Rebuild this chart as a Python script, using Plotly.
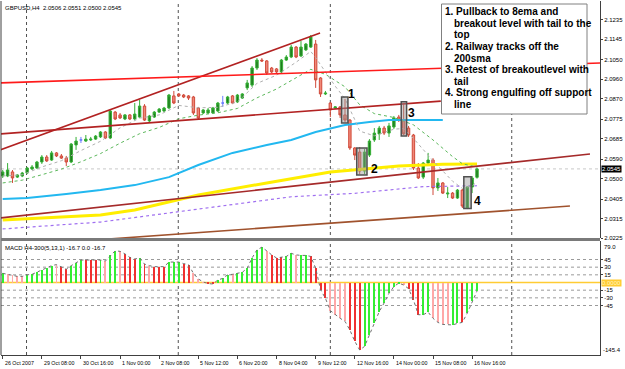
import plotly.graph_objects as go

# ---------------- data ----------------
bar_index = list(range(98))
open_ = [2.0512,2.0512,2.0531,2.0507,2.0512,2.0526,2.0545,2.0549,2.0577,2.0600,
         2.0586,2.0619,2.0605,2.0595,2.0577,2.0656,2.0679,2.0674,2.0679,2.0683,
         2.0693,2.0716,2.0688,2.0808,2.0795,2.0776,2.0795,2.0776,2.0785,2.0836,
         2.0767,2.0785,2.0808,2.0813,2.0827,2.0883,2.0892,2.0887,2.0883,2.0878,
         2.0827,2.0804,2.0804,2.0804,2.0813,2.0850,2.0850,2.0883,2.0855,2.0873,
         2.0920,2.0933,2.1012,2.1049,2.1045,2.1012,2.1008,2.0994,2.1049,2.1063,
         2.1109,2.1068,2.1096,2.1109,2.1123,2.0966,2.0892,2.0850,2.0827,2.0832,
         2.0795,2.0771,2.0642,2.0623,2.0535,2.0609,2.0679,2.0707,2.0734,2.0711,
         2.0739,2.0785,2.0771,2.0734,2.0702,2.0549,2.0507,2.0572,2.0586,2.0457,
         2.0480,2.0429,2.0433,2.0410,2.0447,2.0364,2.0461,2.0506]
high = [2.0540,2.0572,2.0540,2.0521,2.0531,2.0554,2.0563,2.0582,2.0609,2.0609,
        2.0628,2.0623,2.0614,2.0605,2.0665,2.0693,2.0693,2.0702,2.0693,2.0702,
        2.0720,2.0720,2.0818,2.0813,2.0804,2.0799,2.0799,2.0850,2.0864,2.0845,
        2.0795,2.0813,2.0827,2.0832,2.0892,2.0906,2.0896,2.0892,2.0887,2.0883,
        2.0832,2.0822,2.0827,2.0832,2.0855,2.0883,2.0883,2.0887,2.0892,2.0896,
        2.0957,2.1021,2.1058,2.1058,2.1049,2.1017,2.1012,2.1054,2.1072,2.1119,
        2.1114,2.1137,2.1128,2.1165,2.1142,2.0970,2.0906,2.0855,2.0836,2.0836,
        2.0869,2.0776,2.0646,2.0646,2.0637,2.0683,2.0734,2.0744,2.0744,2.0758,
        2.0790,2.0795,2.0850,2.0744,2.0707,2.0572,2.0577,2.0619,2.0595,2.0503,
        2.0484,2.0461,2.0438,2.0452,2.0452,2.0466,2.0512,2.0551]
low = [2.0503,2.0507,2.0480,2.0503,2.0507,2.0521,2.0540,2.0545,2.0568,2.0577,
       2.0582,2.0600,2.0591,2.0558,2.0572,2.0633,2.0665,2.0670,2.0674,2.0679,
       2.0688,2.0683,2.0683,2.0771,2.0776,2.0771,2.0771,2.0771,2.0781,2.0767,
       2.0762,2.0781,2.0804,2.0808,2.0822,2.0845,2.0878,2.0873,2.0864,2.0795,
       2.0776,2.0799,2.0799,2.0799,2.0808,2.0832,2.0845,2.0845,2.0850,2.0869,
       2.0910,2.0924,2.1003,2.1040,2.0980,2.0989,2.0984,2.0989,2.1045,2.1058,
       2.1058,2.1063,2.1091,2.1105,2.0920,2.0878,2.0887,2.0785,2.0822,2.0781,
       2.0762,2.0633,2.0586,2.0521,2.0521,2.0600,2.0670,2.0679,2.0702,2.0693,
       2.0730,2.0762,2.0702,2.0693,2.0540,2.0498,2.0498,2.0563,2.0424,2.0443,
       2.0429,2.0410,2.0406,2.0406,2.0364,2.0359,2.0433,2.0500]
close = [2.0531,2.0540,2.0503,2.0517,2.0526,2.0549,2.0554,2.0577,2.0600,2.0582,
         2.0619,2.0605,2.0595,2.0577,2.0660,2.0674,2.0679,2.0683,2.0683,2.0697,
         2.0716,2.0688,2.0813,2.0776,2.0781,2.0795,2.0776,2.0799,2.0836,2.0771,
         2.0790,2.0808,2.0822,2.0827,2.0887,2.0850,2.0883,2.0878,2.0873,2.0804,
         2.0781,2.0818,2.0818,2.0827,2.0850,2.0850,2.0878,2.0850,2.0887,2.0892,
         2.0943,2.1012,2.1049,2.1045,2.0989,2.0994,2.0994,2.1049,2.1063,2.1109,
         2.1063,2.1109,2.1123,2.1156,2.0957,2.0892,2.0896,2.0818,2.0832,2.0795,
         2.0771,2.0642,2.0609,2.0535,2.0623,2.0674,2.0711,2.0734,2.0711,2.0744,
         2.0781,2.0771,2.0707,2.0702,2.0549,2.0503,2.0572,2.0586,2.0457,2.0480,
         2.0433,2.0433,2.0410,2.0447,2.0373,2.0461,2.0503,2.0545]

ema8_bars = [0,4,8,12,16,20,24,28,32,36,40,44,48,52,56,60,63,64,68,70,72,73,76,80,82,84,88,92,94,96,97]
ema8_vals = [2.0512,2.0518,2.0554,2.0583,2.0630,2.0673,2.0735,2.0780,2.0795,2.0839,2.0828,2.0830,
             2.0855,2.0941,2.0979,2.1039,2.1089,2.1060,2.0928,2.0870,2.0773,2.0720,2.0698,2.0729,
             2.0732,2.0686,2.0583,2.0488,2.0455,2.0467,2.0484]
ema21_bars = [0,4,8,12,16,20,24,28,32,36,40,44,48,52,56,60,63,66,70,73,76,80,84,88,92,94,97]
ema21_vals = [2.0480,2.0493,2.0518,2.0544,2.0578,2.0616,2.0664,2.0708,2.0737,2.0777,2.0794,2.0805,
              2.0825,2.0874,2.0915,2.0965,2.1006,2.0983,2.0925,2.0842,2.0801,2.0783,2.0749,2.0679,
              2.0602,2.0569,2.0553]
sma100_bars = [0,5,13,20,27,34,40,47,54,59,64,70,75,79,90]
sma100_vals = [2.0406,2.0410,2.0429,2.0447,2.0470,2.0507,2.0563,2.0619,2.0656,2.0679,2.0716,
               2.0748,2.0762,2.0771,2.0771]
sma200_bars = [0,20,27,34,40,54,67,74,81,90,97]
sma200_vals = [2.0308,2.0332,2.0355,2.0392,2.0424,2.0480,2.0531,2.0545,2.0558,2.0566,2.0568]
ma_purple_bars = [0,20,40,54,59,72,86,97]
ma_purple_vals = [2.0267,2.0299,2.0359,2.0401,2.0416,2.0432,2.0463,2.0467]

# MACD histogram
macd = [18,16,14,12,12,15,16,20,25,29,
        33,35,31,26,33,39,44,44,44,44,
        44,42,53,62,61,56,49,46,48,36,
        33,31,31,31,40,40,40,37,35,18,
        7,1,-2,-3,5,8,15,16,18,20,
        28,48,64,69,62,54,48,49,51,57,
        54,53,53,51,28,-14,-31,-55,-63,-70,
        -76,-93,-115,-132,-125,-102,-80,-57,-40,-21,
        -8,-1,-5,-12,-34,-63,-63,-58,-70,-78,
        -82,-82,-83,-80,-78,-60,-37,-16.7]
macd_state = list("gpppp" "gggggg" "prr" "ggg" "rrr" "gp" "gg" "prrr" "grp" "rrr" "ggg" "rr"
                  "ppp" "rr" "ggg" "p" "gggggg" "prrr" "gg" "p" "gg" "rrrr" "pppp" "rrr"
                  "gggggggg" "p" "rrr" "gg" "pppp" "gg" "r" "ggg")
macd_levels = [45, 30, 15, -15, -30, -45]

# trend lines drawn on the chart (bar, price) -> (bar, price)
trend_x0 = [-0.55, -0.55, -0.55, -0.55, 22.0]
trend_p0 = [2.0633, 2.0707, 2.0943, 2.0318, 2.0221]
trend_x1 = [64.9, 89.6, 122.15, 120.1, 116.0]
trend_p1 = [2.1174, 2.0859, 2.1035, 2.0614, 2.0373]

# highlighted setups
box_x0 = [69.3, 72.4, 81.5, 94.3]
box_x1 = [70.6, 74.5, 82.6, 95.8]
box_top = [2.0878, 2.0642, 2.0856, 2.0509]
box_bot = [2.0758, 2.0517, 2.0697, 2.0362]
box_lbl = ["1", "2", "3", "4"]
lbl_x = [71.4, 76.0, 83.7, 97.1]
lbl_p = [2.0894, 2.0543, 2.0805, 2.0398]

price_ticks = [2.1235, 2.1145, 2.1050, 2.0960, 2.0870, 2.0775, 2.0685, 2.0590, 2.0500, 2.0405, 2.0315, 2.0225]
time_tick_bars = [0, 8, 16, 24, 32, 40, 48, 56, 64, 72, 80, 88, 96]
time_tick_labels = ["26 Oct 2007", "29 Oct 08:00", "30 Oct 16:00", "1 Nov 00:00", "2 Nov 08:00",
                    "5 Nov 12:00", "6 Nov 20:00", "8 Nov 04:00", "9 Nov 12:00", "12 Nov 16:00",
                    "14 Nov 00:00", "15 Nov 08:00", "16 Nov 16:00"]
grid_bars = [4.87, 35.9, 67.0, 104.1]
last_price = 2.0545

note_lines = ["1. Pullback to 8ema and", "breakout level with tail to the", "top",
              "2. Railway tracks off the", "200sma", "3. Retest of breakoutlevel with",
              "tail", "4. Strong engulfing off support", "line"]

# ---------------- figure ----------------
FONT = "Liberation Sans, Arial, sans-serif"
W, H = 625, 369
ML, MR, MT, MB = 1, 25, 1, 14
plot_h = H - MT - MB
XR = [-0.35, 122.15]
YR = [2.02251, 2.13224]
Y2R = [-141.8, 81.2]

def py2paper(py):
    return (H - MB - py) / plot_h

main_dom = [py2paper(238), 1.0]
macd_dom = [0.0, py2paper(241)]

fig = go.Figure()

up = [i for i in bar_index if close[i] > open_[i]]
dn = [i for i in bar_index if close[i] < open_[i]]
dj = [i for i in bar_index if close[i] == open_[i]]

def cs(idx, fill, line):
    return go.Candlestick(
        x=idx, open=[open_[i] for i in idx], high=[high[i] for i in idx],
        low=[low[i] for i in idx], close=[close[i] for i in idx],
        increasing=dict(fillcolor=fill, line=dict(color=line, width=1)),
        decreasing=dict(fillcolor=fill, line=dict(color=line, width=1)),
        whiskerwidth=0, showlegend=False, hoverinfo="skip", xaxis="x", yaxis="y")

# moving averages below candles
fig.add_trace(go.Scatter(x=sma100_bars, y=sma100_vals, mode="lines",
                         line=dict(color="#22b8f0", width=2), xaxis="x", yaxis="y", showlegend=False))
fig.add_trace(go.Scatter(x=sma200_bars, y=sma200_vals, mode="lines",
                         line=dict(color="#ffee00", width=3), xaxis="x", yaxis="y", showlegend=False))
fig.add_trace(go.Scatter(x=ma_purple_bars, y=ma_purple_vals, mode="lines",
                         line=dict(color="#a070f0", width=1.2, dash="dot"), xaxis="x", yaxis="y", showlegend=False))
fig.add_trace(go.Scatter(x=ema21_bars, y=ema21_vals, mode="lines",
                         line=dict(color="#5cb85c", width=1, dash="dot"), xaxis="x", yaxis="y", showlegend=False))
fig.add_trace(go.Scatter(x=ema8_bars, y=ema8_vals, mode="lines",
                         line=dict(color="#b0b0b0", width=1, dash="dot"), xaxis="x", yaxis="y", showlegend=False))

fig.add_trace(cs(up, "#1e7a1e", "#36b036"))
fig.add_trace(cs(dn, "#f08878", "#d04a3a"))
fig.add_trace(cs(dj, "#6a7cff", "#6a7cff"))

# MACD
cmap = {"g": "#33ee33", "r": "#f03030", "p": "#ffa8a8"}
fig.add_trace(go.Bar(x=bar_index, y=macd, marker=dict(color=[cmap[c] for c in macd_state], line=dict(width=0)),
                     width=0.2, xaxis="x", yaxis="y2", showlegend=False, hoverinfo="skip"))
fig.add_trace(go.Scatter(x=bar_index, y=macd, mode="lines",
                         line=dict(color="#707070", width=1, dash="dot"), xaxis="x", yaxis="y2", showlegend=False))

shapes = []
# vertical grid
for gx in grid_bars:
    shapes.append(dict(type="line", xref="x", yref="paper", x0=gx, x1=gx, y0=0, y1=1,
                       line=dict(color="#505050", width=1, dash="dot"), layer="below"))
# current price line
shapes.append(dict(type="line", xref="paper", yref="y", x0=0, x1=1, y0=last_price, y1=last_price,
                   line=dict(color="#c8c8c8", width=1, dash="dot"), layer="below"))
# MACD levels
for lv in macd_levels:
    shapes.append(dict(type="line", xref="paper", yref="y2", x0=0, x1=1, y0=lv, y1=lv,
                       line=dict(color="#9a9a9a", width=1, dash="dot"), layer="below"))
shapes.append(dict(type="line", xref="paper", yref="y2", x0=0, x1=1, y0=0, y1=0,
                   line=dict(color="#ffcc33", width=1.5), layer="below"))
# trend lines
tl_style = [("#b22222", 1.6), ("#b22222", 1.6), ("#ff1a1a", 1.6), ("#a52a2a", 1.6), ("#a0522d", 1.6)]
for i in range(len(trend_x0)):
    shapes.append(dict(type="line", xref="x", yref="y", x0=trend_x0[i], y0=trend_p0[i],
                       x1=trend_x1[i], y1=trend_p1[i],
                       line=dict(color=tl_style[i][0], width=tl_style[i][1]), layer="above"))
# setup boxes
for i in range(len(box_x0)):
    shapes.append(dict(type="rect", xref="x", yref="y", x0=box_x0[i], x1=box_x1[i],
                       y0=box_bot[i], y1=box_top[i], fillcolor="rgba(150,150,150,0.45)",
                       line=dict(color="#505050", width=1.5), layer="above"))
# note box (pixel placement)
shapes.append(dict(type="rect", xref="paper", yref="paper",
                   x0=(441.5 - ML) / (W - ML - MR), x1=(587 - ML) / (W - ML - MR),
                   y0=py2paper(114), y1=py2paper(4), fillcolor="white",
                   line=dict(color="#808080", width=1), layer="above"))
# frame
shapes.append(dict(type="line", xref="paper", yref="paper", x0=0, x1=0, y0=0, y1=1,
                   line=dict(color="#404040", width=1)))
shapes.append(dict(type="line", xref="paper", yref="paper", x0=0, x1=1,
                   y0=py2paper(239.5), y1=py2paper(239.5), line=dict(color="#7a7a7a", width=3)))

ann = []
ann.append(dict(text="GBPUSD,H4  2.0506 2.0551 2.0500 2.0545", xref="paper", yref="paper",
                x=0, y=1, xanchor="left", yanchor="top", xshift=2, yshift=-2, showarrow=False,
                font=dict(family=FONT, size=6, color="black")))
ann.append(dict(text="MACD H4-300(5,13,1) -16.7 0.0 -16.7", xref="paper", yref="paper",
                x=0, y=macd_dom[1], xanchor="left", yanchor="top", xshift=2, yshift=-2, showarrow=False,
                font=dict(family=FONT, size=6, color="black")))
ann.append(dict(text="%.4f" % last_price, xref="paper", yref="y", x=1, y=last_price, xanchor="left",
                xshift=1, showarrow=False, bgcolor="black", borderpad=0,
                font=dict(family=FONT, size=6, color="white")))
ann.append(dict(text="0.0000", xref="paper", yref="y2", x=1, y=0, xanchor="left",
                xshift=1, showarrow=False, bgcolor="#ffcc33", borderpad=0,
                font=dict(family=FONT, size=6, color="#fff6c0")))
ann.append(dict(text="79.0", xref="paper", yref="y2", x=1, y=Y2R[1], xanchor="left", yanchor="top",
                xshift=2, yshift=-1, showarrow=False, font=dict(family=FONT, size=6, color="black")))
ann.append(dict(text="-145.4", xref="paper", yref="y2", x=1, y=Y2R[0], xanchor="left", yanchor="bottom",
                xshift=1, yshift=0, showarrow=False, font=dict(family=FONT, size=6, color="black")))
for b, t in zip(time_tick_bars, time_tick_labels):
    ann.append(dict(text=t, xref="x", yref="paper", x=b, y=0, xanchor="left", yanchor="top",
                    xshift=0, yshift=-3, showarrow=False, font=dict(family=FONT, size=5.3, color="black")))
for k, line in enumerate(note_lines):
    indent = 0 if line[:2] in ("1.", "2.", "3.", "4.") else 9
    ann.append(dict(text="<b>%s</b>" % line, xref="paper", yref="paper",
                    x=(443 + indent - ML) / (W - ML - MR), y=py2paper(11.7 + 11.6 * k),
                    xanchor="left", yanchor="middle", showarrow=False,
                    font=dict(family=FONT, size=10, color="black")))
for i in range(len(box_lbl)):
    ann.append(dict(text="<b>%s</b>" % box_lbl[i], xref="x", yref="y", x=lbl_x[i], y=lbl_p[i],
                    showarrow=False, font=dict(family=FONT, size=12, color="black")))

fig.update_layout(
    width=W, height=H, margin=dict(l=ML, r=MR, t=MT, b=MB),
    paper_bgcolor="white", plot_bgcolor="white", showlegend=False, bargap=0,
    shapes=shapes, annotations=ann,
    xaxis=dict(domain=[0, 1], range=XR, anchor="y2", showgrid=False, zeroline=False,
               rangeslider=dict(visible=False), tickvals=time_tick_bars, ticks="outside",
               ticklen=3, tickcolor="#404040", showticklabels=False, showline=True,
               linecolor="#404040", linewidth=1),
    yaxis=dict(domain=main_dom, range=YR, side="right", anchor="x", showgrid=False, zeroline=False,
               tickvals=price_ticks, ticktext=["%.4f" % v for v in price_ticks], ticks="outside",
               ticklen=2, tickcolor="#404040", showline=True, linecolor="#404040", linewidth=1,
               tickfont=dict(family=FONT, size=6, color="black")),
    yaxis2=dict(domain=macd_dom, range=Y2R, side="right", anchor="x", showgrid=False, zeroline=False,
                tickvals=macd_levels, ticktext=[str(v) for v in macd_levels], ticks="outside",
                ticklen=2, tickcolor="#404040", showline=True, linecolor="#404040", linewidth=1,
                tickfont=dict(family=FONT, size=6, color="black")),
)

fig.write_html("out.html")
